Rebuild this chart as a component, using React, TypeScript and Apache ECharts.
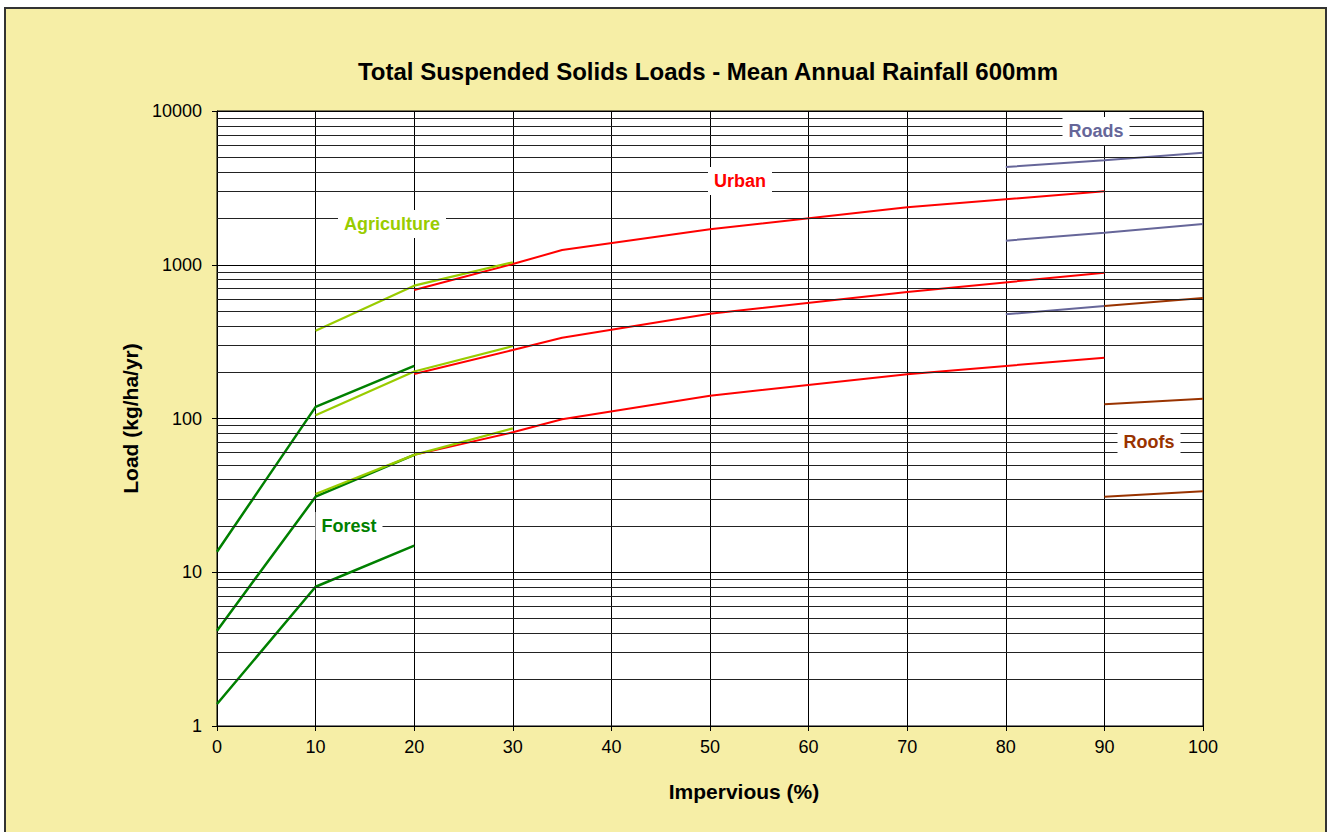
import React, { useEffect, useRef } from "react";
import * as echarts from "echarts";

const titleText = "Total Suspended Solids Loads - Mean Annual Rainfall 600mm";
const xName = "Impervious (%)";
const yName = "Load (kg/ha/yr)";

const xTicks = [0, 10, 20, 30, 40, 50, 60, 70, 80, 90, 100];

// Forest
const forestX = [0, 10, 20];
const forestHigh = [13.6, 119, 220];
const forestMid = [4.17, 31, 58];
const forestLow = [1.39, 8.05, 14.9];

// Agriculture
const agriX = [10, 20, 30];
const agriHigh = [372, 731, 1038];
const agriMid = [105, 202, 296];
const agriLow = [32.3, 58, 86.3];

// Urban
const urbanX = [20, 30, 35, 50, 70, 90];
const urbanHigh = [685, 1010, 1247, 1701, 2364, 3004];
const urbanMid = [195, 279, 335, 480, 665, 888];
const urbanLow = [58, 81.3, 98.8, 140.7, 194, 248.6];

// Roads
const roadsX = [80, 90, 100];
const roadsHigh = [4325, 4780, 5355];
const roadsMid = [1435, 1617, 1841];
const roadsLowX = [80, 90];
const roadsLow = [476, 540];

// Roofs
const roofsX = [90, 100];
const roofsHigh = [540, 608];
const roofsMid = [124, 134.6];
const roofsLow = [31, 33.6];

// Minor log gridlines (2..9 in each decade)
const decades = [1, 10, 100, 1000];
const minorSteps = [2, 3, 4, 5, 6, 7, 8, 9];

const COLORS = {
  forest: "#008000",
  agri: "#99CC00",
  urban: "#FF0000",
  roads: "#666699",
  roofs: "#993300",
};

const FONT = "'Liberation Sans', Arial, sans-serif";

function pairs(xs: number[], ys: number[]) {
  return xs.map((x, i) => [x, ys[i]]);
}

function lineSeries(name: string, xs: number[], ys: number[], color: string, width = 2) {
  return {
    name,
    type: "line",
    data: pairs(xs, ys),
    showSymbol: false,
    symbol: "none",
    lineStyle: { color, width },
    itemStyle: { color },
    silent: true,
  };
}

export default function App() {
  const ref = useRef<HTMLDivElement>(null);

  useEffect(() => {
    if (!ref.current) return;
    const chart = echarts.init(ref.current, undefined, { renderer: "svg" });

    const minorValues: number[] = [];
    decades.forEach((d) => minorSteps.forEach((s) => minorValues.push(d * s)));

    const labelStyle = (text: string, x: number, y: number, color: string) => ({
      type: "text",
      x,
      y,
      z: 100,
      style: {
        text,
        fill: color,
        font: `bold 18px ${FONT}`,
        align: "center",
        verticalAlign: "middle",
        backgroundColor: "#ffffff",
        padding: [5, 6, 5, 6],
      },
    });

    const option: any = {
      animation: false,
      backgroundColor: "transparent",
      title: {
        text: titleText,
        left: 708,
        top: 59,
        textAlign: "center",
        padding: 0,
        textStyle: { fontFamily: FONT, fontWeight: "bold", fontSize: 24, color: "#000" },
      },
      grid: {
        left: 217,
        right: 130,
        top: 111,
        bottom: 106,
        show: true,
        backgroundColor: "#ffffff",
        borderColor: "#000",
        borderWidth: 1,
      },
      xAxis: {
        type: "value",
        min: 0,
        max: 100,
        interval: 10,
        name: xName,
        nameLocation: "middle",
        nameGap: 55,
        nameTextStyle: {
          fontFamily: FONT,
          fontWeight: "bold",
          fontSize: 21,
          color: "#000",
          padding: [0, 0, 0, 68],
        },
        axisLine: { show: true, lineStyle: { color: "#000", width: 1 } },
        axisTick: { show: true, inside: false, length: 5, lineStyle: { color: "#000" } },
        axisLabel: {
          margin: 12,
          fontFamily: FONT,
          fontSize: 18,
          color: "#000",
          formatter: (v: number) => (xTicks.includes(v) ? String(v) : ""),
        },
        splitLine: { show: true, lineStyle: { color: "#000", width: 1 } },
      },
      yAxis: {
        type: "log",
        logBase: 10,
        min: 1,
        max: 10000,
        name: yName,
        nameLocation: "middle",
        nameGap: 72,
        nameRotate: 90,
        nameTextStyle: { fontFamily: FONT, fontWeight: "bold", fontSize: 21, color: "#000" },
        axisLine: { show: true, lineStyle: { color: "#000", width: 1 } },
        axisTick: { show: true, inside: false, length: 5, lineStyle: { color: "#000" } },
        axisLabel: {
          margin: 15,
          fontFamily: FONT,
          fontSize: 18,
          color: "#000",
          formatter: (v: number) => String(Math.round(v)),
        },
        splitLine: { show: true, lineStyle: { color: "#000", width: 1 } },
      },
      series: [
        {
          name: "minorGrid",
          type: "line",
          data: [],
          silent: true,
          markLine: {
            silent: true,
            symbol: ["none", "none"],
            label: { show: false },
            lineStyle: { color: "#222", width: 1, type: "solid" },
            data: minorValues.map((v) => ({ yAxis: v })),
          },
        },
        lineSeries("Urban high", urbanX, urbanHigh, COLORS.urban),
        lineSeries("Urban mid", urbanX, urbanMid, COLORS.urban),
        lineSeries("Urban low", urbanX, urbanLow, COLORS.urban),
        lineSeries("Roads high", roadsX, roadsHigh, COLORS.roads),
        lineSeries("Roads mid", roadsX, roadsMid, COLORS.roads),
        lineSeries("Roads low", roadsLowX, roadsLow, COLORS.roads),
        lineSeries("Roofs high", roofsX, roofsHigh, COLORS.roofs),
        lineSeries("Roofs mid", roofsX, roofsMid, COLORS.roofs),
        lineSeries("Roofs low", roofsX, roofsLow, COLORS.roofs),
        lineSeries("Forest high", forestX, forestHigh, COLORS.forest, 2.5),
        lineSeries("Forest mid", forestX, forestMid, COLORS.forest, 2.5),
        lineSeries("Forest low", forestX, forestLow, COLORS.forest, 2.5),
        lineSeries("Agriculture high", agriX, agriHigh, COLORS.agri, 2.2),
        lineSeries("Agriculture mid", agriX, agriMid, COLORS.agri, 2.2),
        lineSeries("Agriculture low", agriX, agriLow, COLORS.agri, 2.2),
      ],
      graphic: [
        labelStyle("Agriculture", 392, 224, COLORS.agri),
        labelStyle("Urban", 740, 181, COLORS.urban),
        labelStyle("Forest", 349, 526, COLORS.forest),
        labelStyle("Roads", 1096, 131, COLORS.roads),
        labelStyle("Roofs", 1149, 442, COLORS.roofs),
      ],
    };

    chart.setOption(option);
    return () => {
      chart.dispose();
    };
  }, []);

  return (
    <div
      style={{
        position: "fixed",
        left: 0,
        top: 0,
        width: 1333,
        height: 832,
        overflow: "hidden",
        background: "#ffffff",
      }}
    >
      <div
        style={{
          position: "absolute",
          left: 4,
          top: 7,
          width: 1323,
          height: 845,
          boxSizing: "border-box",
          border: "2px solid #333",
          background: "#F6EEA6",
        }}
      />
      <div ref={ref} style={{ position: "absolute", left: 0, top: 0, width: 1333, height: 832 }} />
    </div>
  );
}
